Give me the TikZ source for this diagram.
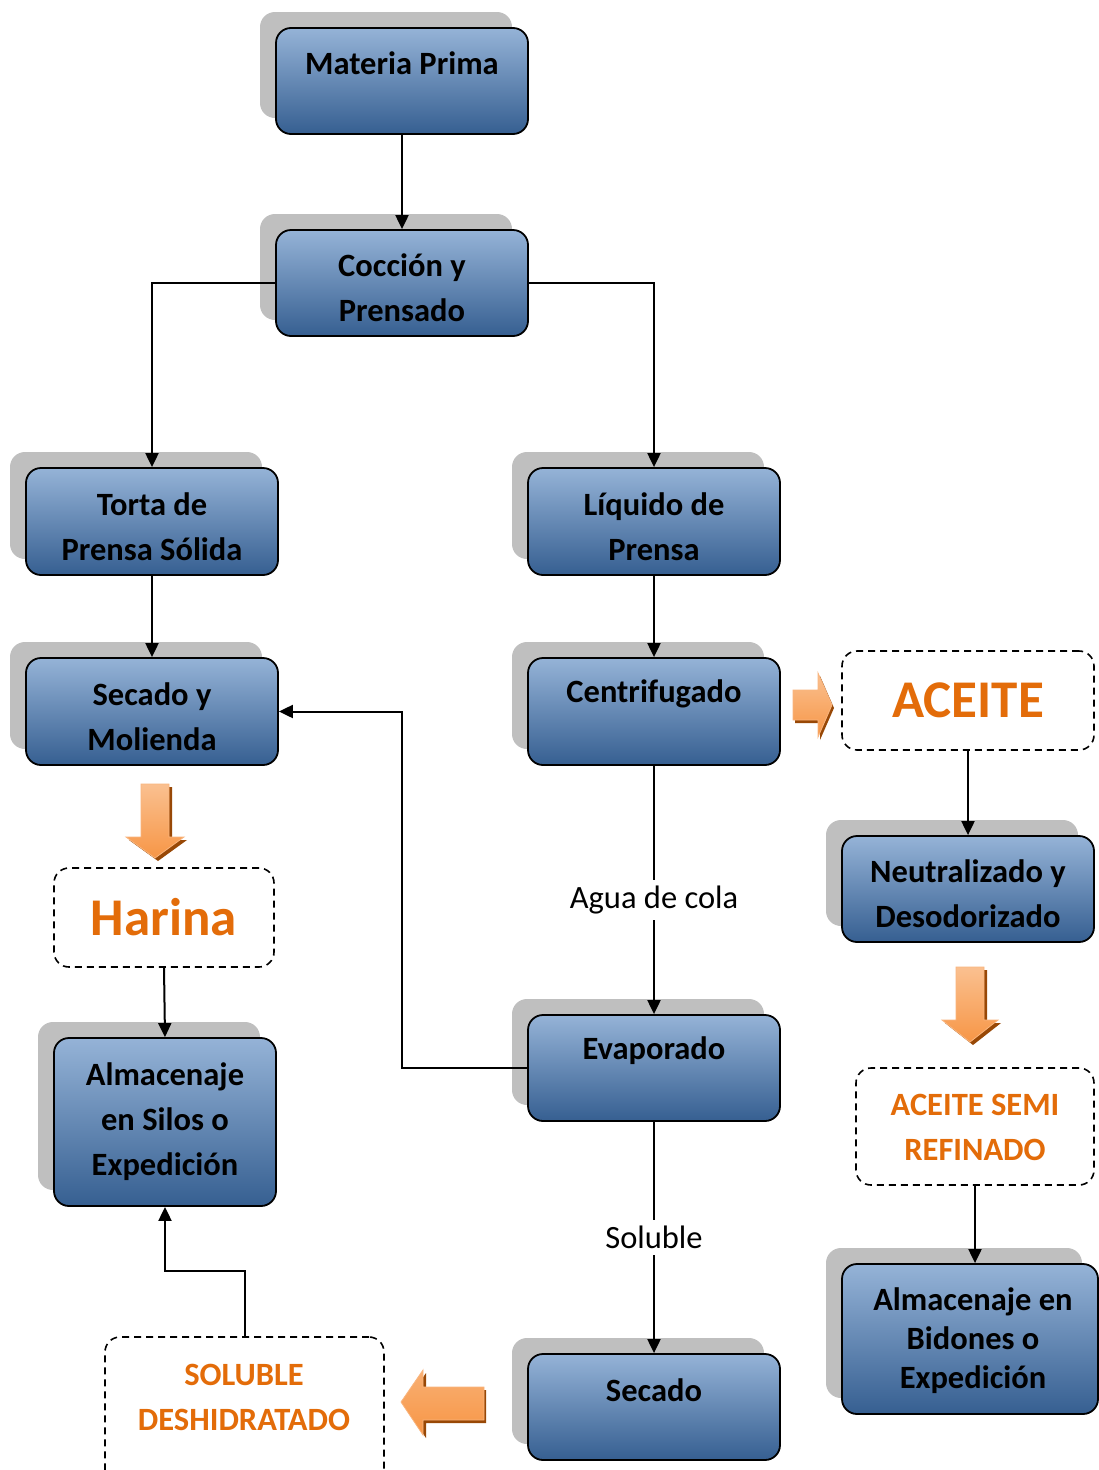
\documentclass[tikz,border=0pt]{standalone}
\usepackage{fontspec}
\setmainfont{Carlito}
\usetikzlibrary{arrows.meta}
\definecolor{btop}{HTML}{95B3D7}
\definecolor{bbot}{HTML}{365F91}
\definecolor{shgray}{HTML}{BFBFBF}
\definecolor{otext}{HTML}{E36C09}
\definecolor{olight}{HTML}{FAC090}
\definecolor{omid}{HTML}{F79646}
\definecolor{odark}{HTML}{984806}
\newcommand\pbox[5]{%
  \fill[shgray, rounded corners=15pt] ({#2-16},{#3-16}) rectangle ({#4-16},{#5-16});
  \node[proc, minimum width={(#4)-(#2)}, minimum height={(#5)-(#3)}] (#1) at ({(#2+#4)/2},{(#3+#5)/2}) {};}
\newcommand\dbox[5]{%
  \node[dbx, minimum width={(#4)-(#2)}, minimum height={(#5)-(#3)}] (#1) at ({(#2+#4)/2},{(#3+#5)/2}) {};}
\begin{document}
\begin{tikzpicture}[x=1pt,y=-1pt,
  proc/.style={draw=black, line width=1.8pt, rounded corners=15pt, top color=btop, bottom color=bbot, inner sep=0pt},
  dbx/.style={draw=black, line width=1.6pt, dash pattern=on 7pt off 5pt, rounded corners=15pt, inner sep=0pt},
  btxt/.style={font=\bfseries\fontsize{32.5}{45}\selectfont, align=center, text=black, inner sep=0pt},
  otxt/.style={font=\bfseries\fontsize{32.5}{45}\selectfont, align=center, text=otext, inner sep=0pt},
  bigo/.style={font=\bfseries\fontsize{53}{60}\selectfont, text=otext, inner sep=0pt},
  lbl/.style={font=\fontsize{32.5}{40}\selectfont, fill=white, inner sep=6pt},
  conn/.style={line width=2pt, -{Triangle[length=14pt,width=13pt]}},
  oarrow/.style={draw=omid!70!white, line width=0.8pt},
  oshadow/.style={fill=odark}]
\useasboundingbox (0,0) rectangle (1099,1470);
\fill[white] (0,0) rectangle (1099,1470);

% process boxes
\pbox{mp}{276}{28}{528}{134}
\pbox{cp}{276}{230}{528}{336}
\pbox{torta}{26}{468}{278}{575}
\pbox{liq}{528}{468}{780}{575}
\pbox{secm}{26}{658}{278}{765}
\pbox{cen}{528}{658}{780}{765}
\pbox{neut}{842}{836}{1094}{942}
\pbox{eva}{528}{1015}{780}{1121}
\pbox{silos}{54}{1038}{276}{1206}
\pbox{sec}{528}{1354}{780}{1460}
\pbox{bid}{842}{1264}{1098}{1414}

% texts
\node[btxt] (mp-t) at (402,63) {Materia Prima};
\node[btxt] (cp-t) at (402,288) {Cocción y\\Prensado};
\node[btxt] (torta-t) at (152,527) {Torta de\\Prensa Sólida};
\node[btxt] (liq-t) at (654,527) {Líquido de\\Prensa};
\node[btxt] (secm-t) at (152,717) {Secado y\\Molienda};
\node[btxt] (cen-t) at (654,694) {Centrifugado};
\node[btxt] (neut-t) at (968,894) {Neutralizado y\\Desodorizado};
\node[btxt] (eva-t) at (654,1051) {Evaporado};
\node[btxt] (silos-t) at (165,1122) {Almacenaje\\en Silos o\\Expedición};
\node[btxt] (sec-t) at (654,1390) {Secado};
\node[btxt, font=\bfseries\fontsize{32.5}{39}\selectfont] (bid-t) at (973,1341) {Almacenaje en\\Bidones o\\Expedición};

% dashed boxes
\dbox{aceite}{842}{651}{1094}{750}
\dbox{harina}{54}{868}{274}{967}
\dbox{semi}{856}{1068}{1094}{1185}
\dbox{soldes}{105}{1337}{384}{1495}
\node[bigo] (aceite-t) at (968,700) {ACEITE};
\node[bigo] (harina-t) at (164,917) {Harina};
\node[otxt] (semi-t) at (975,1127) {ACEITE SEMI\\REFINADO};
\node[otxt] (soldes-t) at (244,1397) {SOLUBLE\\DESHIDRATADO};

% connectors
\draw[conn] (mp.south) -- (cp.north);
\draw[conn] (cp.west) -| (torta.north);
\draw[conn] (cp.east) -| (liq.north);
\draw[conn] (torta.south) -- (secm.north);
\draw[conn] (liq.south) -- (cen.north);
\draw[conn] (cen.south) -- node[lbl, pos=0.54] (agua) {Agua de cola} (eva.north);
\draw[conn] (eva.west) -- ++(-125,0) |- (secm.east);
\draw[conn] (eva.south) -- node[lbl, pos=0.5] (solub) {Soluble} (sec.north);
\draw[conn] (aceite.south) -- (neut.north);
\draw[conn] (harina.south) -- (silos.north);
\draw[conn] (semi.south) -- (semi.south |- bid.north);
\draw[conn] (soldes.north) -- ++(0,-65) -| (silos.south);

% orange block arrows
% down arrow under Secado y Molienda
\fill[oshadow] (144,787) -- (172,787) -- (172,840) -- (187,840) -- (158,861) -- (129,840) -- (144,840) -- cycle;
\path[oarrow, top color=olight, bottom color=omid] (141,784) -- (169,784) -- (169,837) -- (184,837) -- (155,858) -- (126,837) -- (141,837) -- cycle;
% down arrow under Neutralizado
\fill[oshadow] (959,970) -- (987,970) -- (987,1023) -- (1001,1023) -- (973,1045) -- (945,1023) -- (959,1023) -- cycle;
\path[oarrow, top color=olight, bottom color=omid] (956,967) -- (984,967) -- (984,1020) -- (998,1020) -- (970,1042) -- (942,1020) -- (956,1020) -- cycle;
% right arrow to ACEITE
\fill[oshadow] (795,693) -- (820,693) -- (820,676) -- (834,708) -- (820,740) -- (820,723) -- (795,723) -- cycle;
\path[oarrow, top color=olight, bottom color=omid] (793,690) -- (818,690) -- (818,673) -- (832,705) -- (818,737) -- (818,720) -- (793,720) -- cycle;
% left arrow to SOLUBLE DESHIDRATADO
\fill[oshadow] (486,1390) -- (426,1390) -- (426,1373) -- (404,1405) -- (426,1438) -- (426,1423) -- (486,1423) -- cycle;
\path[oarrow, top color=olight!60!omid, bottom color=omid] (484,1387) -- (423,1387) -- (423,1370) -- (401,1402) -- (423,1435) -- (423,1420) -- (484,1420) -- cycle;
\end{tikzpicture}
\end{document}
